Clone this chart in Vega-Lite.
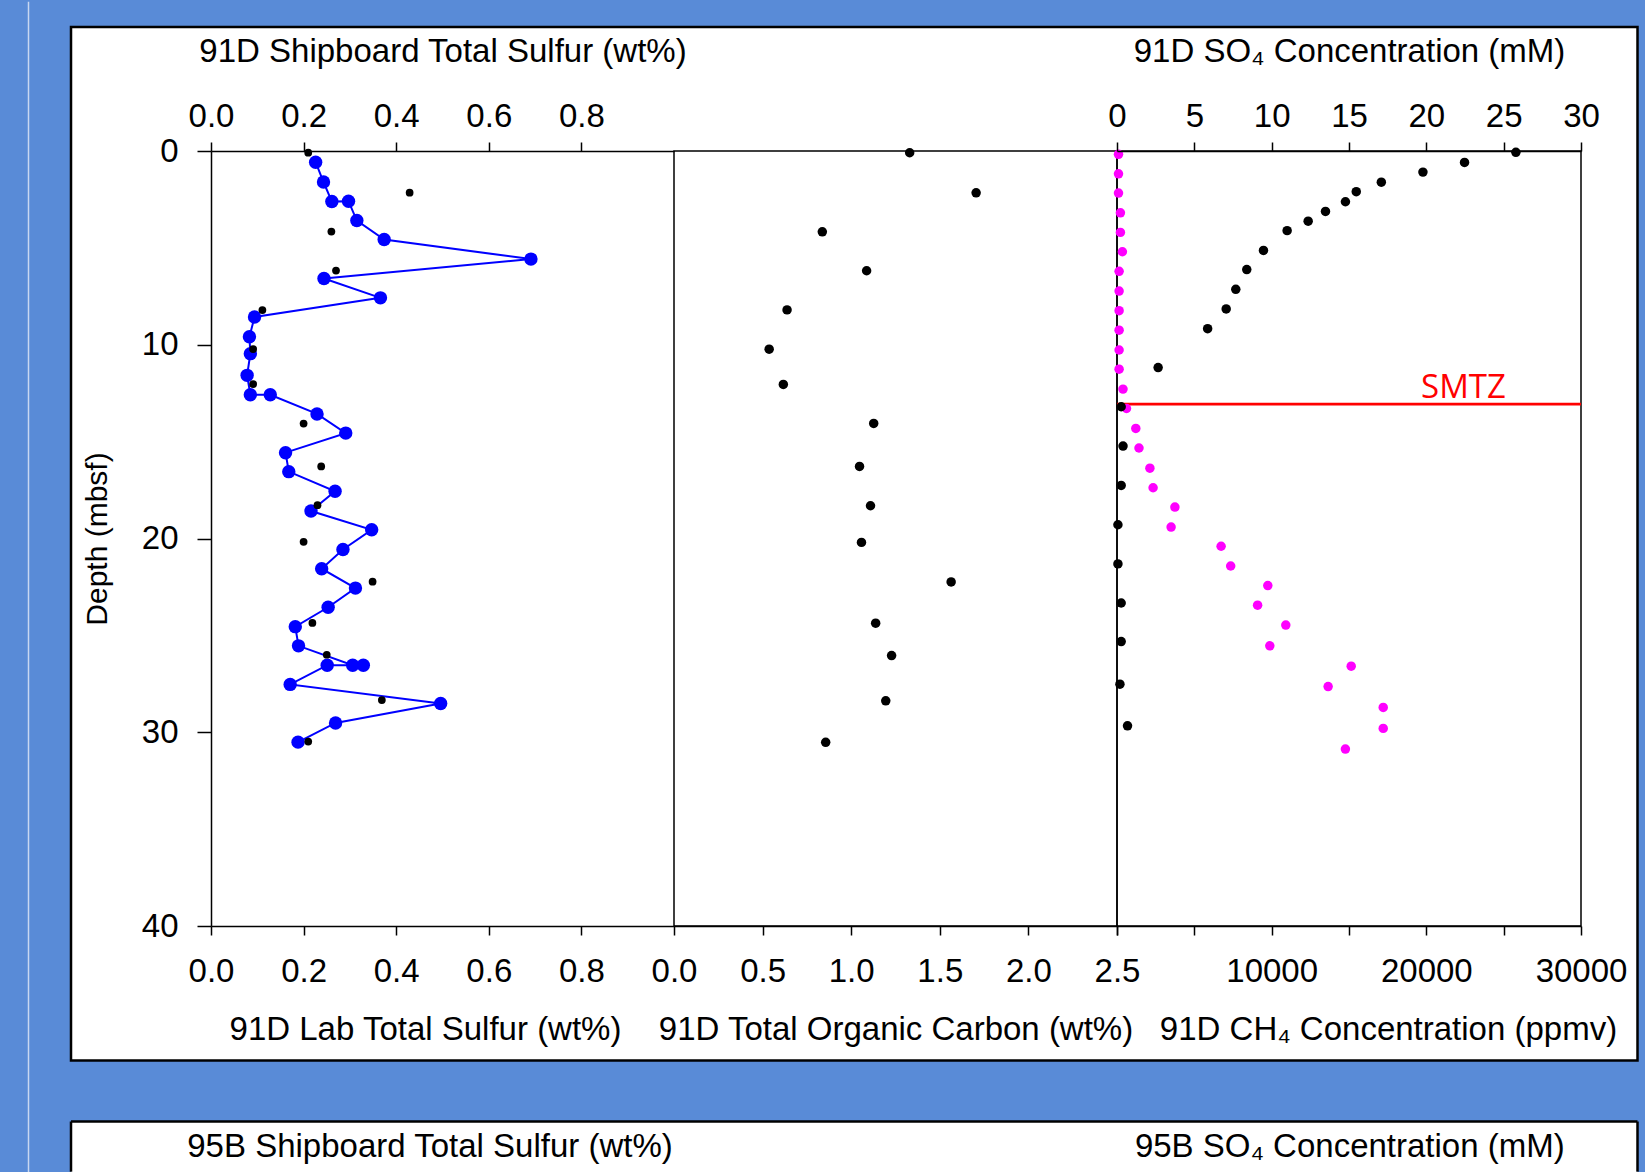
{
  "$schema": "https://vega.github.io/schema/vega-lite/v6.json",
  "background": "#598BD7",
  "padding": 0,
  "autosize": {"type": "pad"},
  "spacing": 0,
  "bounds": "flush",
  "datasets": {
    "labS": [
      {"ord": 1, "depth": 0.58, "S": 0.226},
      {"ord": 2, "depth": 1.60, "S": 0.243},
      {"ord": 3, "depth": 2.61, "S": 0.261},
      {"ord": 4, "depth": 2.59, "S": 0.297},
      {"ord": 5, "depth": 3.59, "S": 0.315},
      {"ord": 6, "depth": 4.57, "S": 0.374},
      {"ord": 7, "depth": 5.58, "S": 0.691},
      {"ord": 8, "depth": 6.58, "S": 0.244},
      {"ord": 9, "depth": 7.58, "S": 0.366},
      {"ord": 10, "depth": 8.57, "S": 0.094},
      {"ord": 11, "depth": 9.59, "S": 0.083},
      {"ord": 12, "depth": 10.46, "S": 0.085},
      {"ord": 13, "depth": 11.58, "S": 0.078},
      {"ord": 14, "depth": 12.58, "S": 0.085},
      {"ord": 15, "depth": 12.58, "S": 0.128},
      {"ord": 16, "depth": 13.57, "S": 0.229},
      {"ord": 17, "depth": 14.56, "S": 0.291},
      {"ord": 18, "depth": 15.57, "S": 0.161},
      {"ord": 19, "depth": 16.55, "S": 0.168},
      {"ord": 20, "depth": 17.56, "S": 0.268},
      {"ord": 21, "depth": 18.58, "S": 0.216},
      {"ord": 22, "depth": 19.55, "S": 0.347},
      {"ord": 23, "depth": 20.57, "S": 0.285},
      {"ord": 24, "depth": 21.56, "S": 0.239},
      {"ord": 25, "depth": 22.56, "S": 0.312},
      {"ord": 26, "depth": 23.55, "S": 0.253},
      {"ord": 27, "depth": 24.55, "S": 0.182},
      {"ord": 28, "depth": 25.54, "S": 0.189},
      {"ord": 29, "depth": 26.54, "S": 0.306},
      {"ord": 30, "depth": 26.54, "S": 0.329},
      {"ord": 31, "depth": 26.54, "S": 0.251},
      {"ord": 32, "depth": 27.53, "S": 0.171},
      {"ord": 33, "depth": 28.52, "S": 0.496},
      {"ord": 34, "depth": 29.52, "S": 0.269},
      {"ord": 35, "depth": 30.51, "S": 0.188}
    ],
    "shipS": [
      {"depth": 0.09, "S": 0.210},
      {"depth": 2.15, "S": 0.429},
      {"depth": 4.16, "S": 0.260},
      {"depth": 6.17, "S": 0.270},
      {"depth": 8.21, "S": 0.111},
      {"depth": 10.22, "S": 0.091},
      {"depth": 12.03, "S": 0.091},
      {"depth": 14.07, "S": 0.200},
      {"depth": 16.28, "S": 0.238},
      {"depth": 18.28, "S": 0.230},
      {"depth": 20.17, "S": 0.200},
      {"depth": 22.23, "S": 0.349},
      {"depth": 24.36, "S": 0.219},
      {"depth": 26.0, "S": 0.250},
      {"depth": 28.34, "S": 0.369},
      {"depth": 30.48, "S": 0.210}
    ],
    "toc": [
      {"depth": 0.09, "toc": 1.330},
      {"depth": 2.16, "toc": 1.705},
      {"depth": 4.17, "toc": 0.837},
      {"depth": 6.18, "toc": 1.087},
      {"depth": 8.20, "toc": 0.638},
      {"depth": 10.23, "toc": 0.537},
      {"depth": 12.05, "toc": 0.617},
      {"depth": 14.06, "toc": 1.127},
      {"depth": 16.28, "toc": 1.047},
      {"depth": 18.31, "toc": 1.109},
      {"depth": 20.20, "toc": 1.058},
      {"depth": 22.24, "toc": 1.564},
      {"depth": 24.37, "toc": 1.138},
      {"depth": 26.04, "toc": 1.228},
      {"depth": 28.38, "toc": 1.195},
      {"depth": 30.52, "toc": 0.856}
    ],
    "so4": [
      {"depth": 0.07, "so4": 25.79},
      {"depth": 0.59, "so4": 22.47},
      {"depth": 1.09, "so4": 19.78},
      {"depth": 1.61, "so4": 17.09},
      {"depth": 2.10, "so4": 15.47},
      {"depth": 2.62, "so4": 14.77},
      {"depth": 3.12, "so4": 13.48},
      {"depth": 3.62, "so4": 12.36},
      {"depth": 4.11, "so4": 11.00},
      {"depth": 5.13, "so4": 9.47},
      {"depth": 6.12, "so4": 8.39},
      {"depth": 7.14, "so4": 7.68},
      {"depth": 8.15, "so4": 7.06},
      {"depth": 9.17, "so4": 5.86},
      {"depth": 11.18, "so4": 2.66},
      {"depth": 13.20, "so4": 0.27},
      {"depth": 15.23, "so4": 0.39},
      {"depth": 17.26, "so4": 0.27},
      {"depth": 19.29, "so4": 0.06},
      {"depth": 21.31, "so4": 0.06},
      {"depth": 23.33, "so4": 0.27},
      {"depth": 25.32, "so4": 0.27},
      {"depth": 27.52, "so4": 0.19},
      {"depth": 29.67, "so4": 0.68}
    ],
    "ch4": [
      {"depth": 0.17, "ch4": 97},
      {"depth": 1.18, "ch4": 97},
      {"depth": 2.17, "ch4": 97},
      {"depth": 3.19, "ch4": 220},
      {"depth": 4.20, "ch4": 220},
      {"depth": 5.20, "ch4": 349},
      {"depth": 6.21, "ch4": 136},
      {"depth": 7.23, "ch4": 136},
      {"depth": 8.24, "ch4": 136},
      {"depth": 9.25, "ch4": 136},
      {"depth": 10.27, "ch4": 136},
      {"depth": 11.26, "ch4": 136},
      {"depth": 12.29, "ch4": 388},
      {"depth": 13.29, "ch4": 614},
      {"depth": 14.32, "ch4": 1216},
      {"depth": 15.33, "ch4": 1422},
      {"depth": 16.37, "ch4": 2127},
      {"depth": 17.38, "ch4": 2334},
      {"depth": 18.38, "ch4": 3744},
      {"depth": 19.41, "ch4": 3498},
      {"depth": 20.40, "ch4": 6731},
      {"depth": 21.42, "ch4": 7351},
      {"depth": 22.43, "ch4": 9750},
      {"depth": 23.44, "ch4": 9091},
      {"depth": 24.47, "ch4": 10914},
      {"depth": 25.54, "ch4": 9880},
      {"depth": 26.59, "ch4": 15142},
      {"depth": 27.64, "ch4": 13651},
      {"depth": 28.72, "ch4": 17213},
      {"depth": 29.80, "ch4": 17213},
      {"depth": 30.87, "ch4": 14767}
    ],
    "smtz": [
      {"depth": 13.06, "label": "SMTZ"}
    ]
  },
  "resolve": {"scale": {"x": "independent", "y": "independent"}, "axis": {"x": "independent", "y": "independent"}},
  "hconcat": [
    {
      "width": 463,
      "height": 775,
      "layer": [
        {
          "data": {"values": [{}]},
          "mark": {"type": "rect", "color": "#598BD7", "strokeWidth": 0},
          "encoding": {
            "x": {"datum": -0.45356371, "type": "quantitative", "scale": {"domain": [0, 1], "nice": false}, "axis": null},
            "x2": {"datum": 3.09935205},
            "y": {"datum": -7.74193548, "type": "quantitative", "scale": {"domain": [0, 40], "reverse": true, "nice": false}, "axis": null},
            "y2": {"datum": 52.7483871}
          }
        },
        {
          "data": {"values": [{}]},
          "mark": {"type": "rule", "color": "#c8d7f1", "strokeWidth": 1.5},
          "encoding": {
            "x": {"datum": -0.39416847, "type": "quantitative", "scale": {"domain": [0, 1], "nice": false}, "axis": null},
            "y": {"datum": -7.70, "type": "quantitative", "scale": {"domain": [0, 40], "reverse": true, "nice": false}, "axis": null},
            "y2": {"datum": 52.70}
          }
        },
        {
          "data": {"values": [{}]},
          "mark": {"type": "rect", "fill": "#ffffff", "stroke": "#000000", "strokeWidth": 2.5},
          "encoding": {
            "x": {"datum": -0.30237581, "type": "quantitative", "scale": {"domain": [0, 1], "nice": false}, "axis": null},
            "x2": {"datum": 3.08099352},
            "y": {"datum": -6.4, "type": "quantitative", "scale": {"domain": [0, 40], "reverse": true, "nice": false}, "axis": null},
            "y2": {"datum": 46.94193548}
          }
        },
        {
          "data": {"values": [{}]},
          "mark": {"type": "rect", "fill": "#ffffff", "strokeWidth": 0},
          "encoding": {
            "x": {"datum": -0.30237581, "type": "quantitative", "scale": {"domain": [0, 1], "nice": false}, "axis": null},
            "x2": {"datum": 3.08099352},
            "y": {"datum": 50.09032258, "type": "quantitative", "scale": {"domain": [0, 40], "reverse": true, "nice": false}, "axis": null},
            "y2": {"datum": 52.7483871}
          }
        },
        {
          "data": {"values": [{}]},
          "mark": {"type": "rule", "color": "#000000", "strokeWidth": 2.5},
          "encoding": {
            "x": {"datum": -0.30237581, "type": "quantitative", "scale": {"domain": [0, 1], "nice": false}, "axis": null},
            "x2": {"datum": 3.08099352},
            "y": {"datum": 50.09032258, "type": "quantitative", "scale": {"domain": [0, 40], "reverse": true, "nice": false}, "axis": null}
          }
        },
        {
          "data": {"values": [{}]},
          "mark": {"type": "rule", "color": "#000000", "strokeWidth": 2.5},
          "encoding": {
            "x": {"datum": -0.30237581, "type": "quantitative", "scale": {"domain": [0, 1], "nice": false}, "axis": null},
            "y": {"datum": 50.09032258, "type": "quantitative", "scale": {"domain": [0, 40], "reverse": true, "nice": false}, "axis": null},
            "y2": {"datum": 52.68}
          }
        },
        {
          "data": {"values": [{}]},
          "mark": {"type": "rule", "color": "#000000", "strokeWidth": 2.5},
          "encoding": {
            "x": {"datum": 3.08099352, "type": "quantitative", "scale": {"domain": [0, 1], "nice": false}, "axis": null},
            "y": {"datum": 50.09032258, "type": "quantitative", "scale": {"domain": [0, 40], "reverse": true, "nice": false}, "axis": null},
            "y2": {"datum": 52.68}
          }
        },
        {
          "data": {"values": [{}]},
          "mark": {"type": "text", "font": "Liberation Sans", "fontSize": 33, "color": "#000000", "align": "center", "baseline": "alphabetic"},
          "encoding": {
            "x": {"datum": 0.473, "type": "quantitative", "scale": {"domain": [0, 1], "nice": false}, "axis": null},
            "y": {"datum": 51.92, "type": "quantitative", "scale": {"domain": [0, 40], "reverse": true, "nice": false}, "axis": null},
            "text": {"value": "95B Shipboard Total Sulfur (wt%)"}
          }
        },
        {
          "data": {"values": [{}]},
          "mark": {"type": "text", "font": "Liberation Sans", "fontSize": 33, "color": "#000000", "align": "center", "baseline": "alphabetic"},
          "encoding": {
            "x": {"datum": 2.4596, "type": "quantitative", "scale": {"domain": [0, 1], "nice": false}, "axis": null},
            "y": {"datum": 51.92, "type": "quantitative", "scale": {"domain": [0, 40], "reverse": true, "nice": false}, "axis": null},
            "text": {"value": "95B SO₄ Concentration (mM)"}
          }
        },
        {
          "data": {"name": "labS"},
          "mark": {"type": "line", "color": "#0000ff", "strokeWidth": 2, "point": {"filled": true, "size": 180, "color": "#0000ff", "opacity": 1}},
          "encoding": {
            "x": {"field": "S", "type": "quantitative", "scale": {"domain": [0, 1], "nice": false},
              "axis": {"orient": "bottom", "zindex": 2, "values": [0, 0.2, 0.4, 0.6, 0.8], "format": ".1f", "tickSize": 9, "labelPadding": 46, "labelBaseline": "alphabetic", "labelFlush": false, "title": "91D Lab Total Sulfur (wt%)", "titleBaseline": "alphabetic", "titleY": 113, "titleX": 214}},
            "y": {"field": "depth", "type": "quantitative", "scale": {"domain": [0, 40], "reverse": true, "nice": false},
              "axis": {"orient": "left", "zindex": 2, "values": [0, 10, 20, 30, 40], "tickSize": 14, "labelPadding": 19, "title": "Depth (mbsf)", "titleFontSize": 30, "titleX": -114, "titleY": 387.5, "titleBaseline": "middle", "titleAngle": -90}},
            "order": {"field": "ord", "type": "quantitative"}
          }
        },
        {
          "data": {"name": "shipS"},
          "mark": {"type": "circle", "color": "#000000", "size": 60, "opacity": 1},
          "encoding": {
            "x": {"field": "S", "type": "quantitative", "scale": {"domain": [0, 1], "nice": false},
              "axis": {"orient": "top", "zindex": 2, "values": [0, 0.2, 0.4, 0.6, 0.8], "format": ".1f", "tickSize": 9, "labelPadding": 16, "labelBaseline": "alphabetic", "labelFlush": false, "title": "91D Shipboard Total Sulfur (wt%)", "titleBaseline": "alphabetic", "titleY": -90}},
            "y": {"field": "depth", "type": "quantitative", "scale": {"domain": [0, 40], "reverse": true, "nice": false}, "axis": null}
          }
        }
      ],
      "resolve": {"axis": {"x": "independent", "y": "independent"}}
    },
    {
      "width": 443,
      "height": 775,
      "data": {"name": "toc"},
      "mark": {"type": "circle", "color": "#000000", "size": 90, "opacity": 1},
      "encoding": {
        "x": {"field": "toc", "type": "quantitative", "scale": {"domain": [0, 2.5], "nice": false},
          "axis": {"orient": "bottom", "zindex": 2, "values": [0, 0.5, 1, 1.5, 2, 2.5], "format": ".1f", "tickSize": 9, "labelPadding": 46, "labelBaseline": "alphabetic", "labelFlush": false, "title": "91D Total Organic Carbon (wt%)", "titleBaseline": "alphabetic", "titleY": 113}},
        "y": {"field": "depth", "type": "quantitative", "scale": {"domain": [0, 40], "reverse": true, "nice": false}, "axis": null}
      }
    },
    {
      "width": 464,
      "height": 775,
      "layer": [
        {
          "data": {"name": "smtz"},
          "mark": {"type": "rule", "color": "#ff0000", "strokeWidth": 2.7},
          "encoding": {
            "y": {"field": "depth", "type": "quantitative", "scale": {"domain": [0, 40], "reverse": true, "nice": false}, "axis": null}
          }
        },
        {
          "data": {"name": "smtz"},
          "mark": {"type": "text", "color": "#ff0000", "font": "Open Sans", "fontSize": 33, "align": "center", "baseline": "alphabetic", "dy": -6},
          "encoding": {
            "x": {"datum": 22400, "type": "quantitative", "scale": {"domain": [0, 30000], "nice": false}, "axis": null},
            "y": {"field": "depth", "type": "quantitative", "scale": {"domain": [0, 40], "reverse": true, "nice": false}, "axis": null},
            "text": {"field": "label"}
          }
        },
        {
          "data": {"name": "ch4"},
          "mark": {"type": "circle", "color": "#ff00ff", "size": 90, "opacity": 1},
          "encoding": {
            "x": {"field": "ch4", "type": "quantitative", "scale": {"domain": [0, 30000], "nice": false},
              "axis": {"orient": "bottom", "zindex": 2, "values": [0, 5000, 10000, 15000, 20000, 25000, 30000], "format": "d", "labelExpr": "datum.value >= 10000 && datum.value % 10000 === 0 ? datum.label : ''", "tickSize": 9, "labelPadding": 46, "labelBaseline": "alphabetic", "labelFlush": false, "title": "91D CH₄ Concentration (ppmv)", "titleBaseline": "alphabetic", "titleY": 113, "titleX": 271}},
            "y": {"field": "depth", "type": "quantitative", "scale": {"domain": [0, 40], "reverse": true, "nice": false}, "axis": null}
          }
        },
        {
          "data": {"name": "so4"},
          "mark": {"type": "circle", "color": "#000000", "size": 90, "opacity": 1},
          "encoding": {
            "x": {"field": "so4", "type": "quantitative", "scale": {"domain": [0, 30], "nice": false},
              "axis": {"orient": "top", "zindex": 2, "values": [0, 5, 10, 15, 20, 25, 30], "format": "d", "tickSize": 9, "labelPadding": 16, "labelBaseline": "alphabetic", "labelFlush": false, "title": "91D SO₄ Concentration (mM)", "titleBaseline": "alphabetic", "titleY": -90}},
            "y": {"field": "depth", "type": "quantitative", "scale": {"domain": [0, 40], "reverse": true, "nice": false}, "axis": null}
          }
        }
      ],
      "resolve": {"scale": {"x": "independent"}, "axis": {"x": "independent"}}
    }
  ],
  "config": {
    "view": {"stroke": "#000000", "strokeWidth": 1.5},
    "axis": {
      "grid": false,
      "domainColor": "#000000",
      "domainWidth": 1.5,
      "tickColor": "#000000",
      "tickWidth": 1.5,
      "labelColor": "#000000",
      "titleColor": "#000000",
      "labelFont": "Liberation Sans",
      "titleFont": "Liberation Sans",
      "labelFontSize": 33,
      "titleFontSize": 33,
      "titleFontWeight": "normal",
      "labelOverlap": false,
      "labelBound": false
    }
  }
}
